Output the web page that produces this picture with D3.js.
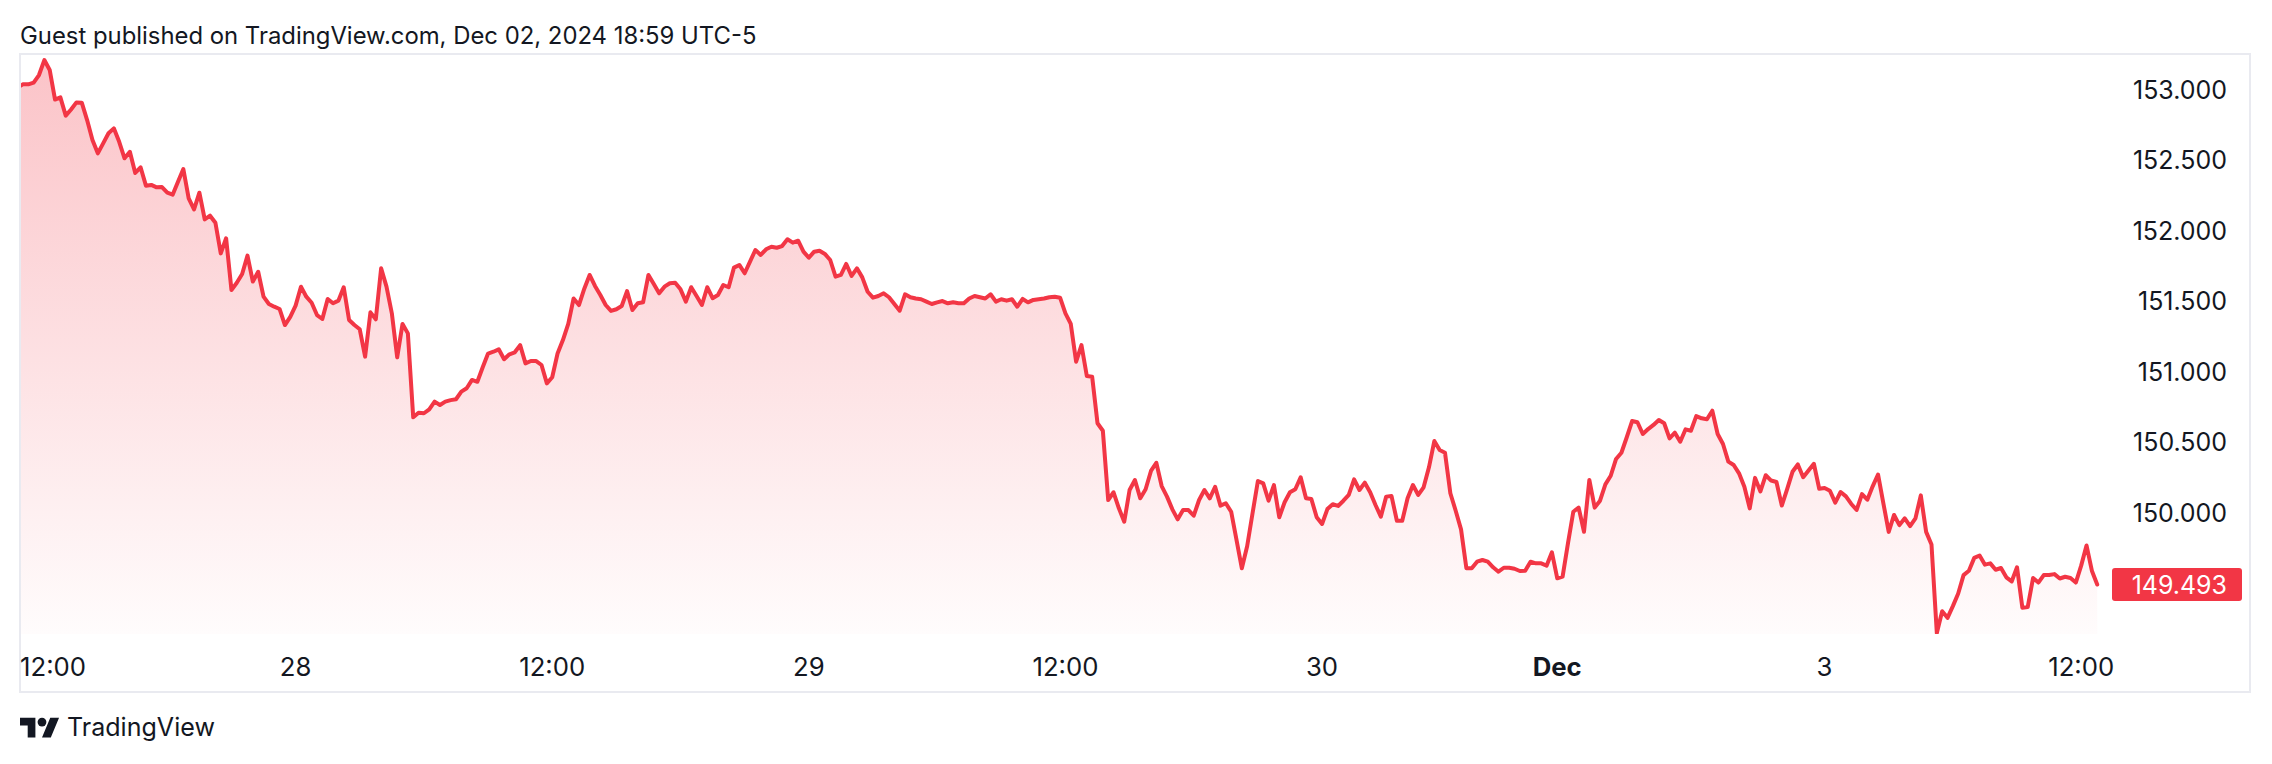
<!DOCTYPE html>
<html><head><meta charset="utf-8">
<script src="https://cdn.jsdelivr.net/npm/d3@7"></script>
<style>html,body{margin:0;padding:0;background:#fff;} svg{display:block;}</style>
</head><body>
<svg id="c" width="2272" height="764"></svg>
<script>
// ---------- data ----------
const title = "Guest published on TradingView.com, Dec 02, 2024 18:59 UTC-5";
const brand = "TradingView";
// 15-minute bars; bar 0 = Nov 27 12:00 (chart time), weekend compressed
const firstBar = -4;
const prices = [
153.017,153.038,153.038,153.05,153.104,153.21,153.14,152.93,152.946,152.816,
152.86,152.91,152.908,152.785,152.644,152.549,152.62,152.691,152.726,152.631,
152.514,152.56,152.41,152.45,152.32,152.325,152.308,152.31,152.27,152.256,
152.348,152.438,152.23,152.152,152.27,152.081,152.107,152.057,151.84,151.947,
151.58,151.632,151.694,151.824,151.64,151.71,151.533,151.481,151.462,151.446,
151.332,
151.39,151.47,151.604,151.533,151.49,151.403,151.375,151.517,151.486,151.505,
151.6,151.368,151.332,151.302,151.108,151.422,151.373,151.734,151.604,151.415,
151.103,151.34,151.273,150.678,150.711,150.707,150.735,150.789,150.765,150.789,
150.80,150.806,150.86,150.884,150.943,150.93,151.033,151.13,151.143,151.16,
151.09,151.125,151.139,151.19,151.06,151.077,151.077,151.049,150.919,150.962,
151.13,151.226,151.34,151.52,151.474,151.59,151.687,
151.609,151.545,151.474,151.432,151.444,151.467,151.573,151.439,151.486,151.493,
151.687,151.623,151.557,151.604,151.628,151.632,151.585,151.498,151.60,151.538,
151.474,151.60,151.522,151.545,151.616,151.60,151.739,151.758,151.699,151.781,
151.864,151.829,151.869,151.887,151.88,151.892,151.94,151.916,151.93,151.852,
151.809,151.852,151.859,151.836,151.793,151.675,151.687,151.765,151.68,151.734,
151.67,151.568,151.526,151.538,151.557,151.529,151.481,151.434,151.55,151.529,
151.52,151.515,151.498,151.481,151.493,151.502,151.486,151.493,151.486,151.486,
151.52,151.538,151.529,151.52,151.55,151.498,151.515,151.505,151.515,151.462,
151.517,151.493,151.51,151.515,151.52,151.529,151.533,151.526,151.415,151.34,
151.072,151.19,150.971,150.966,150.636,
150.583,150.092,150.147,150.033,149.938,150.163,150.234,150.104,150.168,150.298,
150.356,150.191,150.116,150.026,149.955,150.021,150.021,149.981,150.092,150.163,
150.104,150.186,150.052,150.069,150.009,149.809,149.608,149.766,149.998,150.227,
150.21,150.087,150.198,149.97,150.076,150.147,150.168,150.253,150.104,150.099,
149.97,149.922,150.028,150.062,150.05,150.087,150.128,150.239,150.163,150.215,
150.147,150.057,149.974,150.116,150.12,149.945,149.945,150.104,
150.198,150.128,150.182,150.324,150.51,150.446,150.427,150.14,150.016,149.884,
149.608,149.608,149.655,149.667,149.655,149.615,149.584,149.612,149.612,149.605,
149.589,149.591,149.655,149.643,149.643,149.627,149.721,149.537,149.549,149.785,
150.009,150.038,149.867,150.234,150.038,150.087,150.203,150.264,150.383,150.427,
150.537,150.652,150.643,150.56,150.595,150.624,150.659,150.636,150.529,150.569,
150.505,150.593,150.583,150.687,150.671,150.664,150.725,150.56,150.489,150.364,
150.34,150.281,150.186,150.033,
150.249,150.153,150.268,150.23,150.22,150.053,150.17,150.292,150.344,150.254,
150.302,150.349,150.172,150.177,150.158,150.074,150.149,150.118,150.064,150.022,
150.134,150.094,150.189,150.273,150.069,149.866,149.986,149.914,149.962,149.907,
149.962,150.125,149.866,149.777,149.149,149.304,149.257,149.34,149.429,149.56,
149.591,149.682,149.699,149.634,149.643,149.598,149.61,149.544,149.515,149.615,
149.328,149.333,149.539,149.507,149.56,149.56,149.567,149.536,149.548,149.539,
149.507,149.627,149.77,149.591,149.493
];
const tickBars   = [0, 48, 96, 144, 192, 240, 284, 334, 382];
const tickLabels = ["12:00","28","12:00","29","12:00","30","Dec","3","12:00"];
const boldLabels = ["Dec"];
const priceTicks = [150, 150.5, 151, 151.5, 152, 152.5, 153];
const lastPrice  = 149.493;

// ---------- layout ----------
const RED = "#F23645", TEXT = "#131722", BORDER = "#E9EAF0";
const FONT = "Inter, Roboto, 'Noto Sans', sans-serif";
const frame = {left: 20, top: 54, right: 2250, bottom: 692};
const pane  = {left: 20, top: 54, right: 2108, bottom: 634};

const svg = d3.select("#c");
const x = d3.scaleLinear().domain([0, 382]).range([39, 39 + 5.346 * 382]);
const y = d3.scaleLinear().domain([150, 153]).range([513, 513 - 3 * 141.1]);

const data = prices.map((p, i) => ({bar: firstBar + i, price: p}));

function fitWidth(sel, target, base) {
  sel.style("font-size", base + "px");
  const w = sel.node().getComputedTextLength();
  const s = base * target / w;
  sel.style("font-size", s + "px");
  return s;
}

// header
const hdr = svg.append("text").attr("x", 20).attr("y", 44)
  .attr("fill", TEXT).style("font-family", FONT).text(title);
fitWidth(hdr, 737, 24);

// frame
svg.append("rect")
  .attr("x", frame.left).attr("y", frame.top)
  .attr("width", frame.right - frame.left).attr("height", frame.bottom - frame.top)
  .attr("fill", "none").attr("stroke", BORDER).attr("stroke-width", 2);

// clip + gradient
const defs = svg.append("defs");
defs.append("clipPath").attr("id", "paneClip").append("rect")
  .attr("x", pane.left + 1).attr("y", pane.top + 1)
  .attr("width", pane.right - pane.left - 1).attr("height", pane.bottom - pane.top - 1);
const grad = defs.append("linearGradient").attr("id", "fillGrad")
  .attr("gradientUnits", "userSpaceOnUse")
  .attr("x1", 0).attr("x2", 0).attr("y1", pane.top).attr("y2", pane.bottom);
grad.append("stop").attr("offset", 0).attr("stop-color", RED).attr("stop-opacity", 0.30);
grad.append("stop").attr("offset", 1).attr("stop-color", RED).attr("stop-opacity", 0.015);

const g = svg.append("g").attr("clip-path", "url(#paneClip)");
g.append("path").datum(data)
  .attr("fill", "url(#fillGrad)")
  .attr("d", d3.area().x(d => x(d.bar)).y0(pane.bottom).y1(d => y(d.price)));
g.append("path").datum(data)
  .attr("fill", "none").attr("stroke", RED).attr("stroke-width", 4)
  .attr("stroke-linejoin", "round").attr("stroke-linecap", "round")
  .attr("d", d3.line().x(d => x(d.bar)).y(d => y(d.price)));

// price axis
const pa = svg.append("g");
const probe = pa.append("text").style("font-family", FONT).text("153.000");
const pSize = fitWidth(probe, 94, 22);
probe.remove();
pa.selectAll("text.tick").data(priceTicks).join("text")
  .attr("class", "tick")
  .attr("x", 2227).attr("y", d => y(d)).attr("dy", "0.36em")
  .attr("text-anchor", "end").attr("fill", TEXT)
  .style("font-family", FONT).style("font-size", pSize + "px")
  .text(d => d3.format(".3f")(d));

// last price label
const ly = y(lastPrice);
pa.append("rect").attr("x", 2112).attr("y", ly - 16.5).attr("width", 130).attr("height", 33)
  .attr("rx", 3).attr("fill", RED);
pa.append("text").attr("x", 2227).attr("y", ly).attr("dy", "0.36em")
  .attr("text-anchor", "end").attr("fill", "#fff")
  .style("font-family", FONT).style("font-size", pSize + "px")
  .text(d3.format(".3f")(lastPrice));

// time axis
const ta = svg.append("g");
const tprobe = ta.append("text").style("font-family", FONT).text("12:00");
const tSize = fitWidth(tprobe, 66, 22);
tprobe.remove();
tickBars.forEach((b, i) => {
  const lab = tickLabels[i];
  const t = ta.append("text")
    .attr("y", 667).attr("dy", "0.36em")
    .attr("fill", TEXT)
    .style("font-family", FONT).style("font-size", tSize + "px")
    .style("font-weight", boldLabels.includes(lab) ? 700 : 400)
    .text(lab);
  const w = t.node().getComputedTextLength();
  let left = x(b) - w / 2;
  if (left < pane.left) left = pane.left;
  t.attr("x", left);
});

// logo
const logo = svg.append("g").attr("transform", "translate(20,713.3) scale(1.1)");
logo.append("path").attr("d", "M14 22H7V11H0V4h14v18zM28 22h-8l7.5-18h8L28 22z").attr("fill", TEXT);
logo.append("circle").attr("cx", 20).attr("cy", 8).attr("r", 4).attr("fill", TEXT);
const bt = svg.append("text").attr("x", 67).attr("y", 736).attr("fill", TEXT)
  .style("font-family", FONT).text(brand);
fitWidth(bt, 148, 25);
</script>
</body></html>
